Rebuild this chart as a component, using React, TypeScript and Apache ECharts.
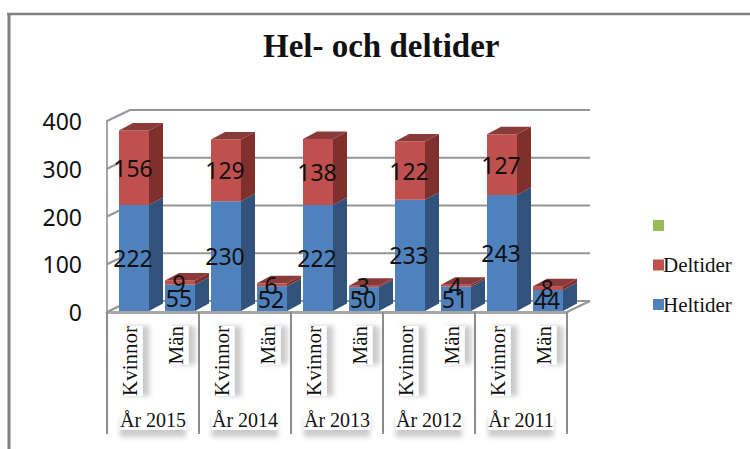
import React, { useEffect, useRef } from "react";
import * as echarts from "echarts";

const categories = ["Kvinnor", "Män", "Kvinnor", "Män", "Kvinnor", "Män", "Kvinnor", "Män", "Kvinnor", "Män"];
const years = ["År 2015", "År 2014", "År 2013", "År 2012", "År 2011"];
const heltider = [222, 55, 230, 52, 222, 50, 233, 51, 243, 44];
const deltider = [156, 9, 129, 6, 138, 3, 122, 4, 127, 8];
const yTicks = [0, 100, 200, 300, 400];

const SERIF = "Liberation Serif";
const SANS = "Noto Sans";
const BAR_W = 30, BAR_OFF = 4, DX = 14, DY = 7.5;
const WALL_DX = 23, WALL_DY = 11;
const GRID_COLOR = "#969696";

const labelBox = {
  backgroundColor: "#ffffff",
  shadowColor: "rgba(0,0,0,0.2)",
  shadowBlur: 5,
  shadowOffsetY: 7,
};

function barRender(front: string, side: string, top: string | null) {
  return (params: any, api: any) => {
    const i = api.value(0);
    const p0 = api.coord([i, api.value(1)]);
    const p1 = api.coord([i, api.value(2)]);
    const x = p0[0] - BAR_W / 2 + BAR_OFF;
    const y0 = p0[1] - 1;
    const y1 = p1[1] - 1;
    const children: any[] = [
      { type: "polygon", shape: { points: [[x + BAR_W, y0], [x + BAR_W + DX, y0 - DY], [x + BAR_W + DX, y1 - DY], [x + BAR_W, y1]] }, style: { fill: side } },
      { type: "rect", shape: { x, y: y1, width: BAR_W, height: y0 - y1 }, style: { fill: front } },
    ];
    if (top) {
      children.push({ type: "polygon", shape: { points: [[x, y1], [x + DX, y1 - DY], [x + BAR_W + DX, y1 - DY], [x + BAR_W, y1]] }, style: { fill: top } });
    }
    children.push({
      type: "text",
      x: x + BAR_W / 2 - 1,
      y: (y0 + y1) / 2,
      z2: 10,
      style: { text: String(api.value(3)), fill: "#111111", font: `23px "${SANS}"`, textAlign: "center", textVerticalAlign: "middle" },
    });
    return { type: "group", children };
  };
}

function wallRender(params: any, api: any) {
  const cs = params.coordSys;
  const v = api.value(0);
  const y = api.coord([0, v])[1];
  const left = cs.x, right = cs.x + cs.width;
  const st = { stroke: GRID_COLOR, lineWidth: 2 };
  const children: any[] = [
    { type: "line", shape: { x1: left, y1: y, x2: left + WALL_DX, y2: y - WALL_DY }, style: st },
    { type: "line", shape: { x1: left + WALL_DX, y1: y - WALL_DY, x2: right + WALL_DX, y2: y - WALL_DY }, style: st },
  ];
  if (v === 0) {
    children.push({ type: "line", shape: { x1: right, y1: y, x2: right + WALL_DX, y2: y - WALL_DY }, style: st });
  }
  return { type: "group", children };
}

export default function App() {
  const ref = useRef<HTMLDivElement>(null);
  useEffect(() => {
    const chart = echarts.init(ref.current!, undefined, { renderer: "svg" });
    const helData = heltider.map((v, i) => [i, 0, v, v]);
    const delData = deltider.map((v, i) => [i, heltider[i], heltider[i] + v, v]);
    chart.setOption({
      animation: false,
      backgroundColor: "#ffffff",
      title: {
        text: "Hel- och deltider",
        left: 258,
        top: 24,
        textStyle: { fontFamily: SERIF, fontSize: 33, fontWeight: "bold", color: "#111111" },
      },
      legend: {
        orient: "vertical",
        left: 648,
        top: 210,
        itemWidth: 11,
        itemHeight: 11,
        itemGap: 18.5,
        icon: "rect",
        data: [" ", "Deltider", "Heltider"],
        textStyle: { fontFamily: SERIF, fontSize: 21, color: "#111111", padding: [0, 0, 6, -6] },
      },
      grid: { left: 107, right: 183, top: 121, bottom: 137 },
      xAxis: [
        {
          type: "category",
          data: categories,
          position: "bottom",
          axisLine: { show: true, lineStyle: { color: "#a6a6a6", width: 3 } },
          axisTick: { show: false },
          axisLabel: {
            interval: 0,
            rotate: 90,
            margin: 14,
            fontFamily: SERIF,
            fontSize: 21,
            color: "#111111",
            padding: [2, 0, 2, 0],
            ...labelBox,
          },
        },
        {
          type: "category",
          data: years,
          position: "bottom",
          axisLine: { show: false },
          axisTick: { show: true, length: 122, lineStyle: { color: "#8c8c8c", width: 2 } },
          axisLabel: {
            interval: 0,
            margin: 98,
            fontFamily: SERIF,
            fontSize: 20,
            color: "#111111",
            ...labelBox,
          },
        },
      ],
      yAxis: {
        type: "value",
        min: 0,
        max: 400,
        interval: 100,
        axisLine: { show: true, lineStyle: { color: "#a6a6a6", width: 2 } },
        axisTick: { show: false },
        splitLine: { show: false },
        axisLabel: { margin: 25, fontFamily: SANS, fontSize: 23, color: "#111111" },
      },
      series: [
        {
          name: "wall",
          type: "custom",
          z: 1,
          silent: true,
          renderItem: wallRender,
          data: yTicks.map((v) => [v]),
          encode: { y: 0 },
        },
        {
          name: "Heltider",
          type: "custom",
          z: 2,
          itemStyle: { color: "#4f81bd" },
          renderItem: barRender("#4f81bd", "#30527b", null),
          data: helData,
          encode: { x: 0, y: 2 },
        },
        {
          name: "Deltider",
          type: "custom",
          z: 3,
          itemStyle: { color: "#c0504d" },
          renderItem: barRender("#c0504d", "#7f302d", "#8a3a38"),
          data: delData,
          encode: { x: 0, y: 2 },
        },
        {
          name: " ",
          type: "custom",
          itemStyle: { color: "#9bbb59" },
          renderItem: () => ({ type: "group", children: [] }),
          data: [],
        },
      ],
      graphic: [
        { type: "line", silent: true, shape: { x1: 7, y1: 14, x2: 750, y2: 14 }, style: { stroke: "#808080", lineWidth: 2.5 } },
        { type: "line", silent: true, shape: { x1: 9, y1: 14, x2: 9, y2: 449 }, style: { stroke: "#808080", lineWidth: 3 } },
      ],
    });
    return () => chart.dispose();
  }, []);
  return <div ref={ref} style={{ position: "fixed", left: 0, top: 0, width: 750, height: 449 }} />;
}
